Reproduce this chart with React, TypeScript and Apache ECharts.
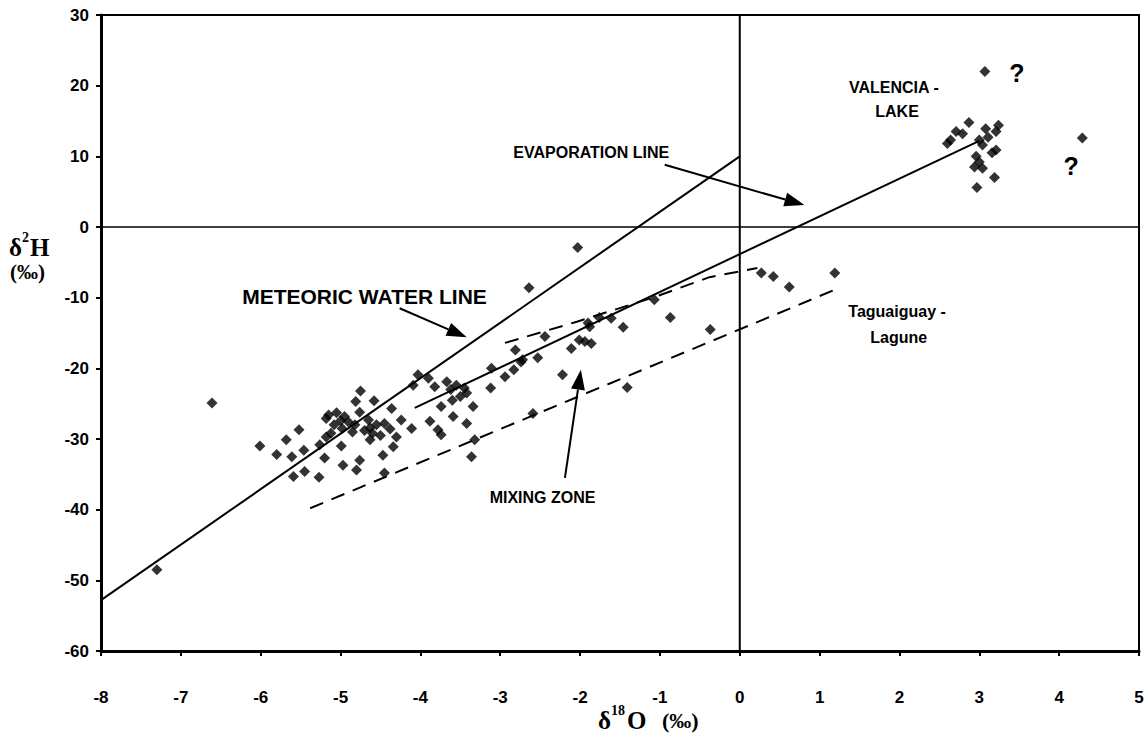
import React, { useEffect, useRef } from "react";
import * as echarts from "echarts";

const xMin = -8;
const xMax = 5;
const yMin = -60;
const yMax = 30;

const samples: [number, number][] = [
  [-7.3, -48.5], [-6.61, -24.9], [-6.01, -31.0], [-5.8, -32.2], [-5.68, -30.1],
  [-5.52, -28.7], [-5.61, -32.5], [-5.46, -31.6], [-5.59, -35.3], [-5.45, -34.6],
  [-5.27, -35.4], [-5.2, -32.7], [-5.26, -30.8], [-4.97, -33.7], [-4.76, -33.0],
  [-4.8, -34.4], [-4.99, -31.0], [-5.18, -29.7], [-5.18, -27.1], [-5.15, -26.6],
  [-5.05, -26.3], [-4.95, -26.8], [-5.08, -28.0], [-4.98, -28.5], [-4.9, -27.6],
  [-4.85, -29.0], [-5.12, -29.2], [-4.82, -28.0], [-5.0, -27.4], [-4.75, -23.2],
  [-4.81, -24.7], [-4.58, -24.6], [-4.76, -26.2], [-4.47, -32.3], [-4.45, -34.8],
  [-4.63, -30.1], [-4.63, -28.4], [-4.65, -27.3], [-4.55, -28.0], [-4.45, -27.8],
  [-4.6, -29.2], [-4.5, -29.5], [-4.38, -28.6], [-4.7, -28.8], [-4.24, -27.3],
  [-4.11, -28.5], [-4.3, -29.7], [-4.34, -31.1], [-4.36, -25.7], [-4.03, -20.9],
  [-3.9, -21.4], [-4.09, -22.4], [-3.82, -22.6], [-3.67, -21.9], [-3.62, -23.0],
  [-3.55, -22.4], [-3.5, -24.0], [-3.6, -24.5], [-3.45, -22.8], [-3.42, -23.5],
  [-3.34, -25.4], [-3.74, -25.4], [-3.59, -26.8], [-3.88, -27.5], [-3.78, -28.7],
  [-3.74, -29.4], [-3.42, -27.8], [-3.36, -32.5], [-3.32, -30.1], [-3.12, -22.8],
  [-2.94, -21.2], [-2.83, -20.2], [-3.11, -20.0], [-2.74, -19.1], [-2.59, -26.4],
  [-2.03, -2.9], [-2.64, -8.6], [-2.44, -15.5], [-2.81, -17.4], [-2.72, -18.8],
  [-2.53, -18.5], [-2.22, -20.9], [-2.11, -17.2], [-2.01, -16.0], [-1.94, -16.2],
  [-1.86, -16.5], [-1.88, -14.1], [-1.9, -13.6], [-1.76, -12.8], [-1.61, -12.9],
  [-1.46, -14.2], [-1.07, -10.3], [-0.87, -12.8], [-0.37, -14.5], [-1.41, -22.7],
  [0.27, -6.5], [0.42, -7.0], [0.62, -8.5], [1.19, -6.5],
  [3.07, 22.0], [2.87, 14.8], [2.71, 13.5], [2.79, 13.2], [2.6, 11.8],
  [2.64, 12.3], [3.24, 14.4], [3.08, 13.9], [3.21, 13.5], [3.0, 12.3],
  [3.11, 12.7], [3.04, 11.6], [3.21, 10.9], [3.16, 10.5], [2.96, 10.0],
  [3.0, 9.2], [2.94, 8.5], [3.04, 8.3], [3.19, 7.0], [2.97, 5.6], [4.29, 12.6],
];

const meteoricLine: [number, number][] = [[-8, -52.8], [0, 10]];
const evaporationLine: [number, number][] = [[-4.07, -25.6], [3.0, 12.2]];
const mixingUpper: [number, number][] = [
  [-2.94, -16.4], [-2.04, -13.4], [-1.09, -10.0], [-0.38, -7.1], [0.22, -5.8],
];
const mixingLower: [number, number][] = [[-5.38, -39.8], [1.25, -8.6]];
const zeroVertical: [number, number][] = [[0, yMin], [0, yMax]];
const zeroHorizontal: [number, number][] = [[xMin, 0], [xMax, 0]];

const arrows: { from: [number, number]; to: [number, number] }[] = [
  { from: [-0.94, 8.8], to: [0.81, 3.1] },
  { from: [-4.26, -11.5], to: [-3.42, -15.6] },
  { from: [-2.19, -35.5], to: [-1.99, -20.2] },
];

const annotations: { text: string; at: [number, number]; size: number }[] = [
  { text: "EVAPORATION LINE", at: [-1.86, 10.6], size: 16 },
  { text: "METEORIC WATER LINE", at: [-4.7, -9.8], size: 21 },
  { text: "MIXING ZONE", at: [-2.47, -38.3], size: 16 },
  { text: "VALENCIA -", at: [1.93, 19.8], size: 16 },
  { text: "LAKE", at: [1.97, 16.4], size: 16 },
  { text: "Taguaiguay -", at: [1.97, -11.9], size: 16 },
  { text: "Lagune", at: [1.99, -15.7], size: 16 },
  { text: "?", at: [3.47, 21.8], size: 25 },
  { text: "?", at: [4.15, 8.6], size: 25 },
];

const sans = "'Liberation Sans', Arial, sans-serif";
const serif = "'Liberation Serif', 'Times New Roman', serif";

function lineSeries(data: [number, number][], width: number, dashed = false) {
  return {
    type: "line",
    data,
    symbol: "none",
    silent: true,
    lineStyle: { color: "#000", width, type: dashed ? [14, 9] : "solid" },
    z: 1,
  };
}

export default function App() {
  const ref = useRef<HTMLDivElement>(null);
  useEffect(() => {
    document.body.style.margin = "0";
    if (!ref.current) return;
    const chart = echarts.init(ref.current, undefined, { renderer: "svg" });
    const axisCommon = {
      type: "value",
      splitLine: { show: false },
      axisLine: { show: true, onZero: false, lineStyle: { color: "#000", width: 3 } },
      axisTick: { show: true, length: 5, lineStyle: { color: "#000", width: 2 } },
    };
    chart.setOption({
      animation: false,
      backgroundColor: "#fff",
      grid: { left: 101, right: 9, top: 15, bottom: 84, show: true, borderColor: "#000", borderWidth: 2 },
      xAxis: {
        ...axisCommon,
        min: xMin,
        max: xMax,
        interval: 1,
        axisLabel: { margin: 38, fontSize: 17, fontWeight: "bold", color: "#000", fontFamily: sans },
      },
      yAxis: {
        ...axisCommon,
        min: yMin,
        max: yMax,
        interval: 10,
        axisLabel: { margin: 12, fontSize: 17, fontWeight: "bold", color: "#000", fontFamily: sans },
      },
      series: [
        lineSeries(zeroVertical, 2),
        lineSeries(zeroHorizontal, 1.5),
        lineSeries(meteoricLine, 2),
        lineSeries(evaporationLine, 2),
        lineSeries(mixingUpper, 2, true),
        lineSeries(mixingLower, 2, true),
        {
          type: "scatter",
          data: samples,
          symbol: "diamond",
          symbolSize: 11,
          itemStyle: { color: "#000" },
          z: 3,
        },
      ],
    });

    const px = (p: [number, number]) => chart.convertToPixel({ gridIndex: 0 }, p) as number[];
    const graphics: any[] = [];
    arrows.forEach((a) => {
      const [x1, y1] = px(a.from);
      const [x2, y2] = px(a.to);
      const dx = x2 - x1;
      const dy = y2 - y1;
      const len = Math.hypot(dx, dy);
      const ux = dx / len;
      const uy = dy / len;
      const headLen = 20;
      const headW = 7;
      const bx = x2 - ux * headLen;
      const by = y2 - uy * headLen;
      graphics.push({
        type: "line",
        shape: { x1, y1, x2: bx, y2: by },
        style: { stroke: "#000", lineWidth: 2 },
        z: 10,
      });
      graphics.push({
        type: "polygon",
        shape: {
          points: [
            [x2, y2],
            [bx - uy * headW, by + ux * headW],
            [bx + uy * headW, by - ux * headW],
          ],
        },
        style: { fill: "#000" },
        z: 10,
      });
    });
    annotations.forEach((t) => {
      const [x, y] = px(t.at);
      graphics.push({
        type: "text",
        x,
        y,
        style: {
          text: t.text,
          fontSize: t.size,
          fontWeight: "bold",
          fontFamily: sans,
          fill: "#000",
          align: "center",
          verticalAlign: "middle",
        },
        z: 10,
      });
    });
    const title = (text: string, x: number, y: number, size: number) => ({
      type: "text",
      x,
      y,
      style: { text, fontSize: size, fontWeight: "bold", fontFamily: serif, fill: "#000", align: "left", verticalAlign: "middle" },
      z: 10,
    });
    graphics.push(title("δ", 9, 247, 25));
    graphics.push(title("2", 22, 237, 14));
    graphics.push(title("H", 30, 247, 25));
    graphics.push(title("(‰)", 10, 272, 21));
    graphics.push(title("δ", 598, 720, 25));
    graphics.push(title("18", 611, 710, 14));
    graphics.push(title("O", 627, 720, 25));
    graphics.push(title("(‰)", 662, 720, 22));
    chart.setOption({ graphic: graphics });

    return () => chart.dispose();
  }, []);
  return <div ref={ref} style={{ width: 1148, height: 735 }} />;
}
